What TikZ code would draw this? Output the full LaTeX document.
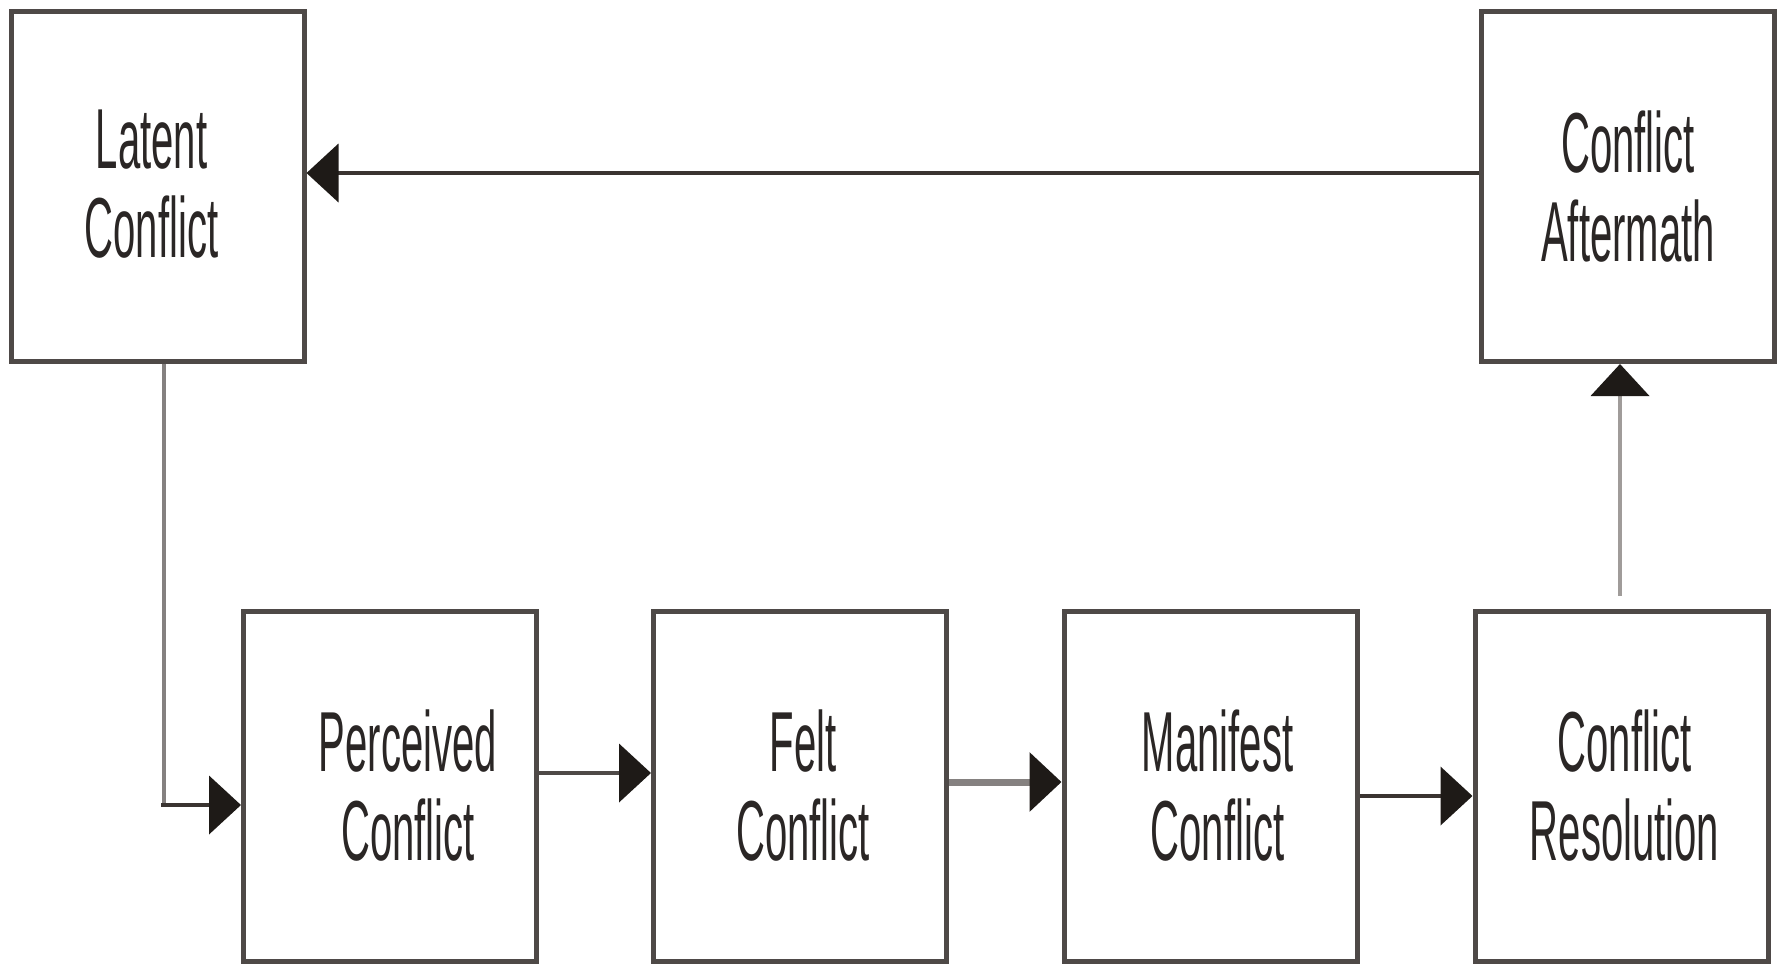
\documentclass[tikz,border=0pt]{standalone}
\usepackage{fontspec}
\setmainfont[FakeStretch=0.47]{Liberation Sans}
\usetikzlibrary{arrows.meta}
\definecolor{boxline}{HTML}{4E4947}
\definecolor{darkline}{HTML}{3A3431}
\definecolor{midline}{HTML}{858180}
\definecolor{lightline}{HTML}{A09C9A}
\definecolor{tipcol}{HTML}{1E1A17}
\definecolor{txt}{HTML}{2A2625}
\tikzset{
  stagebox/.style={draw=boxline, line width=2.5pt, fill=white, minimum width=146.5pt,
    minimum height=175pt, align=center, inner sep=0pt, text=txt,
    font=\fontsize{42.6}{44.5}\selectfont},
  arr/.style={line width=2.2pt, draw=darkline,
    -{Triangle[length=16pt, width=29pt, color=tipcol]}}
}
\begin{document}
\begin{tikzpicture}[x=0.5pt, y=-0.5pt]
\useasboundingbox (0,0) rectangle (1783,965);
\node[stagebox] (latent) at (157.5,186.5) {\raisebox{3pt}{Latent}\hspace*{6pt}\\\raisebox{3pt}{Conflict}\hspace*{6pt}};
\node[stagebox] (after) at (1628,186.5) {Conflict\\Aftermath};
\node[stagebox] (perc) at (390,786) {\hspace*{18pt}Perceived\\\hspace*{18pt}Conflict};
\node[stagebox] (felt) at (800,786) {\hspace*{3pt}Felt\\\hspace*{3pt}Conflict};
\node[stagebox] (mani) at (1210.5,786) {\hspace*{7pt}Manifest\\\hspace*{7pt}Conflict};
\node[stagebox] (reso) at (1621.5,786) {\hspace*{3pt}Conflict\\\hspace*{3pt}Resolution};
\coordinate (bend) at (164,805);
% Aftermath -> Latent
\draw[arr] ([yshift=6.75pt]after.west) -- ([yshift=6.75pt]latent.east);
% Latent -> Perceived
\draw[line width=2.2pt, draw=midline] ([xshift=3.25pt]latent.south) -- ([yshift=1pt]bend);
\draw[arr] ([xshift=-1.5pt]bend) -- (bend -| perc.west);
% Perceived -> Felt
\draw[arr, draw=boxline] ([yshift=6.5pt]perc.east) -- ([yshift=6.5pt]felt.west);
% Felt -> Manifest
\draw[arr, draw=midline, line width=3.5pt] ([yshift=2pt]felt.east) -- ([yshift=2pt]mani.west);
% Manifest -> Resolution
\draw[arr] ([yshift=-5pt]mani.east) -- ([yshift=-5pt]reso.west);
% Resolution -> Aftermath
\draw[arr, draw=lightline, shorten <=6.5pt] ([xshift=-0.75pt]reso.north) -- ([xshift=-0.75pt]reso.north |- after.south);
\end{tikzpicture}
\end{document}
